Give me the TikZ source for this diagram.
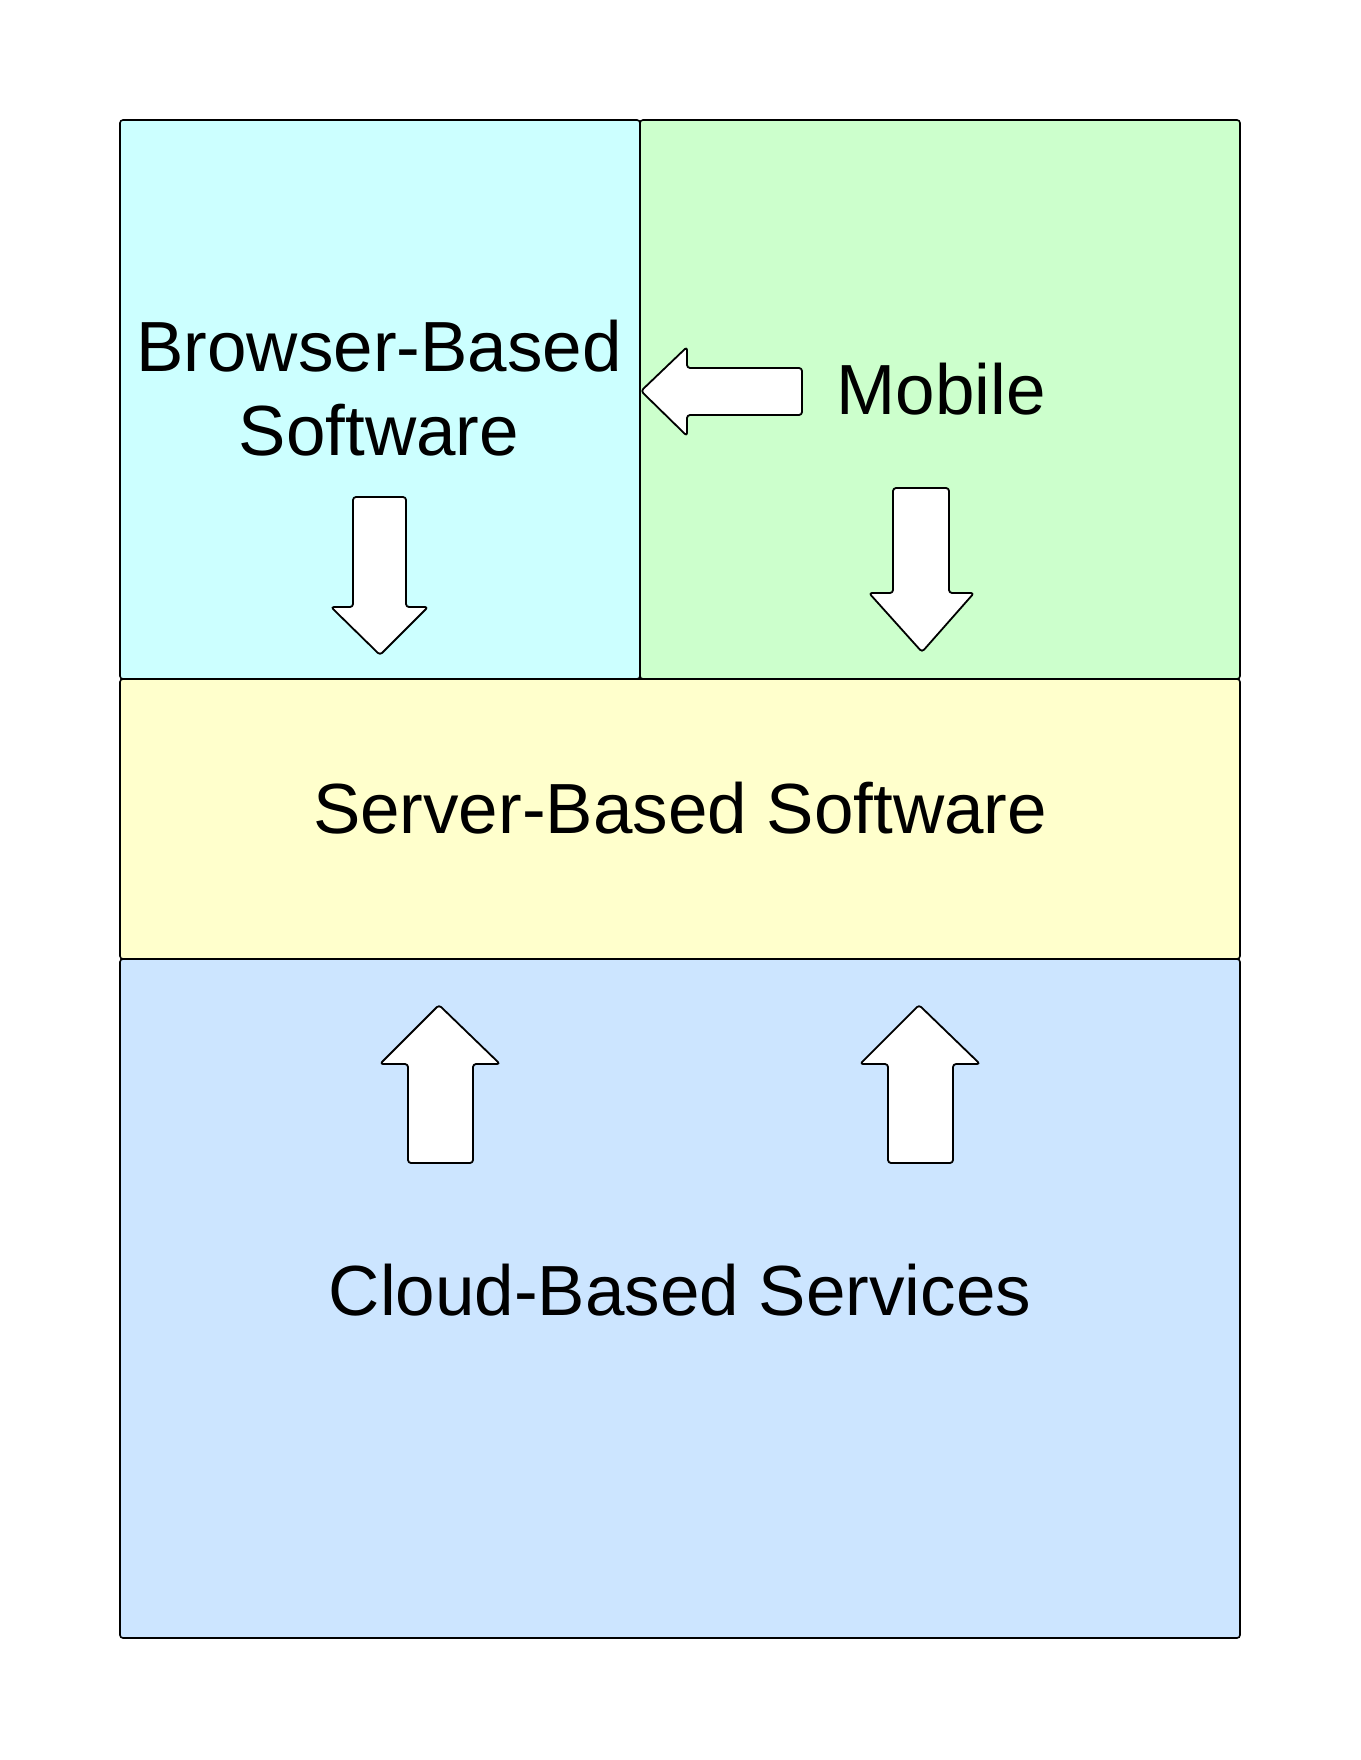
\documentclass[tikz,border=0pt]{standalone}
\usepackage{fontspec}
\setmainfont{Liberation Sans}
\usetikzlibrary{positioning}

\definecolor{browserc}{RGB}{204,255,255}
\definecolor{mobilec}{RGB}{204,255,204}
\definecolor{serverc}{RGB}{255,255,204}
\definecolor{cloudc}{RGB}{204,229,255}

\tikzset{
  layer/.style={draw=black, line width=1.6pt, rounded corners=3pt},
  blockarrow/.style={draw=black, fill=white, line width=1.8pt, rounded corners=3pt, line join=round},
  label/.style={font=\fontsize{71}{84}\selectfont, align=center, inner sep=0pt}
}

\begin{document}
\begin{tikzpicture}[x=1pt,y=-1pt]
            \useasboundingbox (0,0) rectangle (1360,1760);

            % layers
            \draw[layer, fill=browserc] (120,120) rectangle (640,679);
            \draw[layer, fill=mobilec] (640,120) rectangle (1240,679);
            \draw[layer, fill=serverc] (120,679) rectangle (1240,959);
            \draw[layer, fill=cloudc] (120,959) rectangle (1240,1638);

            \node[label] (browser) at (379,388) {Browser-Based\\Software};
            \node[label] (mobile) at (941,389) {Mobile};
            \node[label] (server) at (680,808) {Server-Based Software};
            \node[label] (cloud) at (680,1290) {Cloud-Based Services};

            % mobile -> browser
            \draw[blockarrow] (641,391) -- (687,347) -- (687,368) -- (802,368)
                -- (802,415) -- (687,415) -- (687,436) -- cycle;

            % down arrows
            \draw[blockarrow] (380,655) -- (331,607) -- (353,607) -- (353,497)
                -- (406,497) -- (406,607) -- (428,607) -- cycle;
            \draw[blockarrow] (922,652) -- (869,593) -- (893,593) -- (893,488)
                -- (949,488) -- (949,593) -- (974,593) -- cycle;

            % up arrows
            \foreach \dx in {0,480}
            \draw[blockarrow, xshift=\dx] (439,1005) -- (500,1064) -- (473,1064) -- (473,1163)
                -- (408,1163) -- (408,1064) -- (380,1064) -- cycle;
\end{tikzpicture}
\end{document}
